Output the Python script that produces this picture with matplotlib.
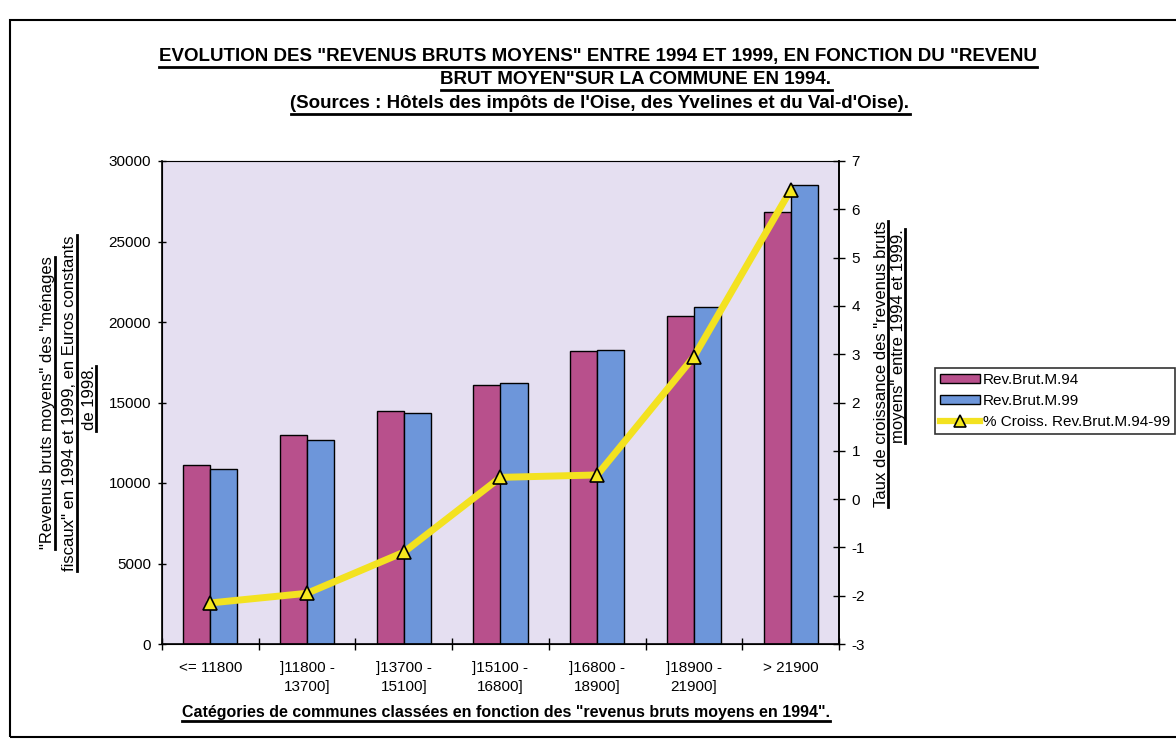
import matplotlib
matplotlib.use("Agg")
import matplotlib.pyplot as plt
import numpy as np
from matplotlib.lines import Line2D
from matplotlib.patches import Rectangle, Patch

plt.rcParams['font.family'] = ['Liberation Sans', 'DejaVu Sans']
plt.rcParams['axes.unicode_minus'] = False

categories = ['<= 11800', ']11800 -\n13700]', ']13700 -\n15100]', ']15100 -\n16800]',
              ']16800 -\n18900]', ']18900 -\n21900]', '> 21900']
rev94 = [11100, 12980, 14480, 16080, 18190, 20350, 26830]
rev99 = [10890, 12690, 14330, 16190, 18290, 20940, 28540]
growth = [-2.15, -1.95, -1.1, 0.45, 0.5, 2.95, 6.4]

W, H = 1176, 739
pink = '#b8508c'
blue = '#6d96da'
yellow = '#f3e220'
lav = '#e5dff1'

fig = plt.figure(figsize=(W / 100, H / 100), dpi=100)


def fx(x):
    return x / W


def fy(y):
    return 1 - y / H


# page frame
fig.add_artist(Rectangle((fx(10), fy(737)), fx(1200) - fx(10), fy(20) - fy(737),
                         transform=fig.transFigure, fill=False, lw=1.5, ec='black'))

ax = fig.add_axes([fx(162), fy(644), fx(839) - fx(162), fy(161) - fy(644)])
ax.set_facecolor(lav)
x = np.arange(len(categories))
w = 0.28
ax.bar(x - w / 2, rev94, w, color=pink, edgecolor='black', lw=1, label='Rev.Brut.M.94')
ax.bar(x + w / 2, rev99, w, color=blue, edgecolor='black', lw=1, label='Rev.Brut.M.99')
ax.set_xlim(-0.5, len(categories) - 0.5)
ax.set_ylim(0, 30000)
ax.set_yticks(np.arange(0, 30001, 5000))
ax.set_xticks(np.arange(-0.5, len(categories), 1.0))
ax.set_xticklabels([])
ax.set_xticks(x, minor=True)
ax.set_xticklabels(categories, minor=True, fontsize=11, linespacing=1.45)
ax.tick_params(axis='x', which='major', direction='inout', length=9, width=1)
ax.tick_params(axis='x', which='minor', length=0, pad=12)
ax.tick_params(axis='y', direction='inout', length=6, width=1, labelsize=11, pad=5)
ax.spines['top'].set_color('#9a9aa8')
ax.spines['top'].set_linewidth(0.8)
for s in ['left', 'bottom', 'right']:
    ax.spines[s].set_linewidth(1.2)

ax2 = ax.twinx()
ax2.plot(x, growth, color=yellow, lw=5, marker='^', ms=10, mfc='#f5e81e',
         mec='black', mew=1.2, label='% Croiss. Rev.Brut.M.94-99')
ax2.set_ylim(-3, 7)
ax2.set_yticks(np.arange(-3, 8, 1))
ax2.tick_params(axis='y', direction='inout', length=8, width=1, labelsize=11, pad=5)
ax2.spines['right'].set_linewidth(1.2)

texts = []
# titles
texts.append((fig.text(fx(598), fy(57), 'EVOLUTION DES "REVENUS BRUTS MOYENS" ENTRE 1994 ET 1999, EN FONCTION DU "REVENU',
                       ha='center', va='center', fontsize=13.5, fontweight='bold'), 0))
texts.append((fig.text(fx(636), fy(80), 'BRUT MOYEN"SUR LA COMMUNE EN 1994.',
                       ha='center', va='center', fontsize=13.5, fontweight='bold'), 0))
texts.append((fig.text(fx(600), fy(104), "(Sources : Hôtels des impôts de l'Oise, des Yvelines et du Val-d'Oise).",
                       ha='center', va='center', fontsize=13.5, fontweight='bold'), 0))
# left label
texts.append((fig.text(fx(48), fy(403), '"Revenus bruts moyens" des "ménages',
                       ha='center', va='center', rotation=90, fontsize=12), 90))
texts.append((fig.text(fx(70), fy(403), 'fiscaux" en 1994 et 1999, en Euros constants',
                       ha='center', va='center', rotation=90, fontsize=12), 90))
texts.append((fig.text(fx(89), fy(398), 'de 1998.',
                       ha='center', va='center', rotation=90, fontsize=12), 90))
# right label
texts.append((fig.text(fx(881), fy(364), 'Taux de croissance des "revenus bruts',
                       ha='center', va='center', rotation=90, fontsize=12), 90))
texts.append((fig.text(fx(898), fy(336), 'moyens" entre 1994 et 1999.',
                       ha='center', va='center', rotation=90, fontsize=12), 90))
# x label
texts.append((fig.text(fx(506), fy(712), 'Catégories de communes classées en fonction des "revenus bruts moyens en 1994".',
                       ha='center', va='center', fontsize=11.5, fontweight='bold'), 0))

fig.canvas.draw()
r = fig.canvas.get_renderer()
for t, rot in texts:
    bb = t.get_window_extent(r)
    if rot == 0:
        yy = bb.y0 - 1.5
        fig.add_artist(Line2D([bb.x0 / W, bb.x1 / W], [yy / H, yy / H], color='black', lw=2))
    else:
        xx = bb.x1 - 1
        fig.add_artist(Line2D([xx / W, xx / W], [bb.y0 / H, bb.y1 / H], color='black', lw=2))

handles = [Patch(facecolor=pink, edgecolor='black', lw=1),
           Patch(facecolor=blue, edgecolor='black', lw=1),
           Line2D([0], [0], color=yellow, lw=4.5, marker='^', ms=9, mfc='#f5e81e', mec='black', mew=1.2)]
labels = ['Rev.Brut.M.94', 'Rev.Brut.M.99', '% Croiss. Rev.Brut.M.94-99']
leg = fig.legend(handles, labels, loc='upper left', bbox_to_anchor=(fx(927), fy(360)),
                 fontsize=11, frameon=True, fancybox=False, edgecolor='black',
                 handlelength=2.6, handleheight=0.6, handletextpad=0.2, borderpad=0.35,
                 labelspacing=0.45)
leg.get_frame().set_linewidth(1.2)

plt.savefig('out.png', dpi=100)
